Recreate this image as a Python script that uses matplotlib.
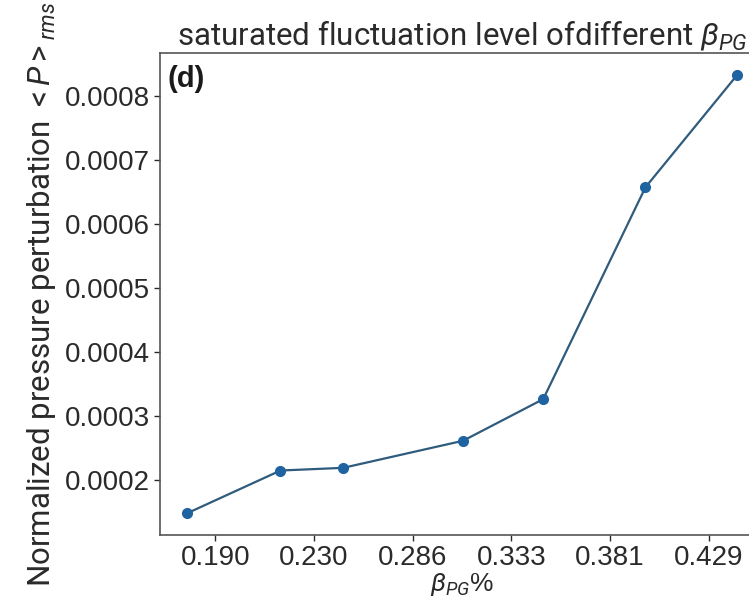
import matplotlib
matplotlib.use('Agg')
import matplotlib.pyplot as plt

plt.rcParams['font.family'] = ['Liberation Sans', 'DejaVu Sans']
plt.rcParams['mathtext.fontset'] = 'custom'
plt.rcParams['mathtext.rm'] = 'Roboto'
plt.rcParams['mathtext.it'] = 'Roboto:italic'

# beta_PG values and saturated rms pressure perturbation
beta_pg = [0.1859, 0.2330, 0.2648, 0.3255, 0.3661, 0.4179, 0.4645]
p_rms = [0.000148, 0.0002145, 0.0002187, 0.000261, 0.000326, 0.000657, 0.000833]

tick_pos = [0.20, 0.25, 0.30, 0.35, 0.40, 0.45]
tick_labels = ['0.190', '0.230', '0.286', '0.333', '0.381', '0.429']

narrow = ['Roboto', 'DejaVu Sans']
text_color = '#2a2a2a'

fig = plt.figure(figsize=(7.49, 6.01), dpi=100)
ax = fig.add_axes([0.2136, 0.1098, 0.8077, 0.8025])

ax.plot(beta_pg, p_rms, color='#2f5b7c', linewidth=1.6, zorder=2)
ax.plot(beta_pg, p_rms, 'o', color='#1f64a0', markersize=7, zorder=3)

ax.set_xticks(tick_pos)
ax.set_xticklabels(tick_labels)
ax.set_yticks([0.0002, 0.0003, 0.0004, 0.0005, 0.0006, 0.0007, 0.0008])
ax.set_yticklabels(['0.0002', '0.0003', '0.0004', '0.0005', '0.0006', '0.0007', '0.0008'])
ax.tick_params(labelsize=20, colors=text_color, length=4, width=1)
for s in ax.spines.values():
    s.set_color('#555555')
    s.set_linewidth(1.2)

ax.set_title(r'saturated fluctuation level ofdifferent $\beta_{PG}$',
             family=narrow, fontsize=22.5, color=text_color, pad=6)
ax.set_xlabel(r'$\beta_{PG}$%', fontsize=19, color=text_color, labelpad=0)
ax.set_ylabel(r'Normalized pressure perturbation ${<}P{>}_{rms}$',
              family=narrow, fontsize=22.5, color=text_color, labelpad=5)

ax.text(0.012, 0.975, '(d)', transform=ax.transAxes, fontsize=21,
        fontweight='bold', va='top', ha='left', color='#1a1a1a')

fig.savefig('out.png', dpi=100)
